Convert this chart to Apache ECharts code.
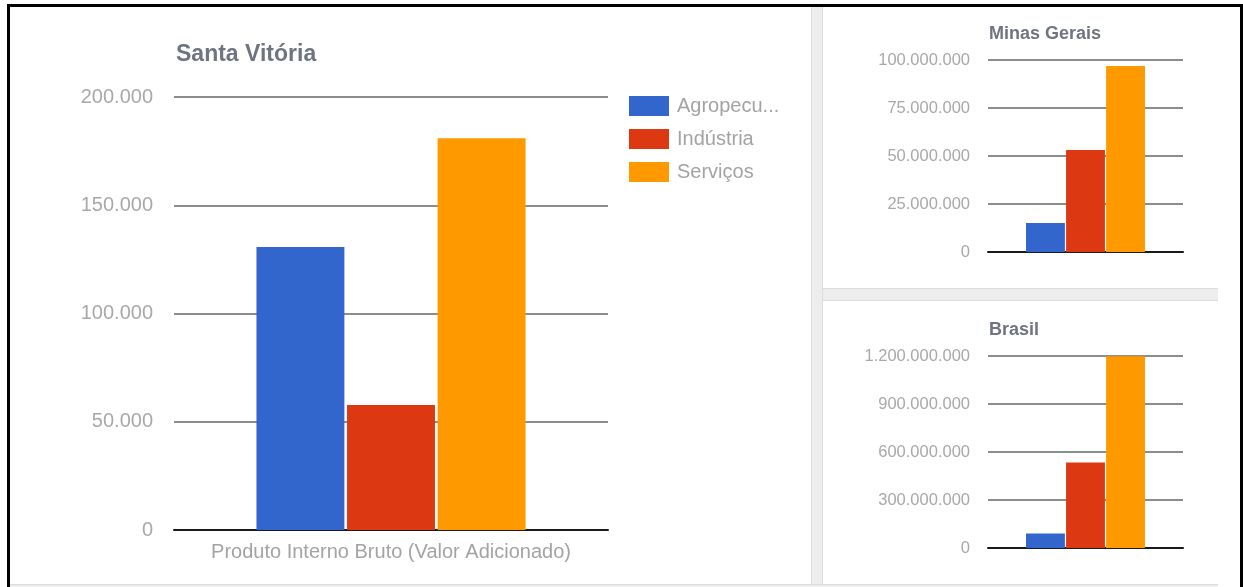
<!DOCTYPE html>
<html>
<head>
<meta charset="utf-8">
<script src="https://cdn.jsdelivr.net/npm/echarts@6/dist/echarts.min.js"></script>
<style>
  html, body { margin: 0; padding: 0; background: #fff; width: 1243px; height: 587px; overflow: hidden; }
  #frame { position: absolute; left: 7px; top: 4px; width: 1230px; height: 600px;
           border-top: 3px solid #000; border-left: 3px solid #000; border-right: 3px solid #000; }
  .strip { position: absolute; background: #ededed; }
  .chart { position: absolute; background: #fff; }
</style>
</head>
<body>
<div id="frame"></div>
<div class="strip" style="left:811px; top:7px; width:10px; height:580px; border-left:1px solid #dcdcdc; border-right:1px solid #dcdcdc;"></div>
<div class="strip" style="left:823px; top:288px; width:395px; height:11px; border-top:1px solid #dcdcdc; border-bottom:1px solid #dcdcdc;"></div>
<div class="strip" style="left:10px; top:584px; width:1208px; height:3px; border-top:1px solid #dcdcdc;"></div>
<div id="main" class="chart" style="left:10px; top:7px; width:801px; height:577px;"></div>
<div id="mg" class="chart" style="left:823px; top:7px; width:395px; height:281px;"></div>
<div id="br" class="chart" style="left:823px; top:301px; width:395px; height:283px;"></div>
<script>
// PIB por setor (valor adicionado)
const categories = ['Produto Interno Bruto (Valor Adicionado)'];
const sectors = ['Agropecuária', 'Indústria', 'Serviços'];
const sectorColors = ['#3366cc', '#dc3912', '#ff9900'];

const santaVitoria = [130700, 57700, 181000];
const minasGerais = [15100000, 53100000, 96900000];
const brasil = [90000000, 535000000, 1198000000];

const santaVitoriaTicks = { min: 0, max: 200000, interval: 50000 };
const minasGeraisTicks = { min: 0, max: 100000000, interval: 25000000 };
const brasilTicks = { min: 0, max: 1200000000, interval: 300000000 };

const FONT = 'Arial, "Liberation Sans", sans-serif';

function withDots(v) {
  return String(v).replace(/\B(?=(\d{3})+(?!\d))/g, '.');
}

function buildOption(cfg) {
  return {
    animation: false,
    title: {
      text: cfg.title,
      left: cfg.titleLeft,
      top: cfg.titleTop,
      textStyle: { fontFamily: FONT, fontSize: cfg.titleSize, fontWeight: 'bold', color: '#6e7580' }
    },
    legend: cfg.legend ? {
      orient: 'vertical',
      left: 614,
      top: 84,
      itemWidth: 40,
      itemHeight: 20,
      itemGap: 13,
      icon: 'rect',
      textStyle: {
        fontFamily: FONT, fontSize: 20, color: '#a3a3a3',
        width: 106, overflow: 'truncate', ellipsis: '...', padding: [0, 0, 0, 3]
      },
      data: sectors
    } : { show: false },
    grid: { left: cfg.grid[0], top: cfg.grid[1], width: cfg.grid[2], height: cfg.grid[3], containLabel: false },
    xAxis: {
      type: 'category',
      data: categories,
      axisLine: { lineStyle: { color: '#1a1a1a', width: 2 } },
      axisTick: { show: false },
      axisLabel: {
        show: cfg.showCategory,
        margin: 12,
        fontFamily: FONT, fontSize: 20, color: '#a3a3a3'
      }
    },
    yAxis: {
      type: 'value',
      min: cfg.ticks.min,
      max: cfg.ticks.max,
      interval: cfg.ticks.interval,
      axisLine: { show: false },
      axisTick: { show: false },
      splitLine: { lineStyle: { color: '#8c8c8c', width: 2 } },
      axisLabel: {
        margin: cfg.labelMargin,
        fontFamily: FONT, fontSize: cfg.labelSize, color: '#a8a8a8',
        formatter: withDots
      }
    },
    series: sectors.map((name, i) => ({
      name: name,
      type: 'bar',
      data: [cfg.values[i]],
      barGap: '3%',
      barCategoryGap: cfg.catGap,
      itemStyle: { color: sectorColors[i] }
    }))
  };
}

echarts.init(document.getElementById('main'), null, { renderer: 'canvas' }).setOption(buildOption({
  title: 'Santa Vitória', titleLeft: 161, titleTop: 31, titleSize: 23,
  legend: true, showCategory: true,
  grid: [164, 90, 434, 433],
  ticks: santaVitoriaTicks, values: santaVitoria,
  labelSize: 20, labelMargin: 21, catGap: '38%'
}));

echarts.init(document.getElementById('mg'), null, { renderer: 'canvas' }).setOption(buildOption({
  title: 'Minas Gerais', titleLeft: 161, titleTop: 13, titleSize: 18,
  legend: false, showCategory: false,
  grid: [165, 53, 195, 192],
  ticks: minasGeraisTicks, values: minasGerais,
  labelSize: 16.5, labelMargin: 18, catGap: '39%'
}));

echarts.init(document.getElementById('br'), null, { renderer: 'canvas' }).setOption(buildOption({
  title: 'Brasil', titleLeft: 161, titleTop: 15, titleSize: 18,
  legend: false, showCategory: false,
  grid: [165, 55, 195, 192],
  ticks: brasilTicks, values: brasil,
  labelSize: 16.5, labelMargin: 18, catGap: '39%'
}));
</script>
</body>
</html>
